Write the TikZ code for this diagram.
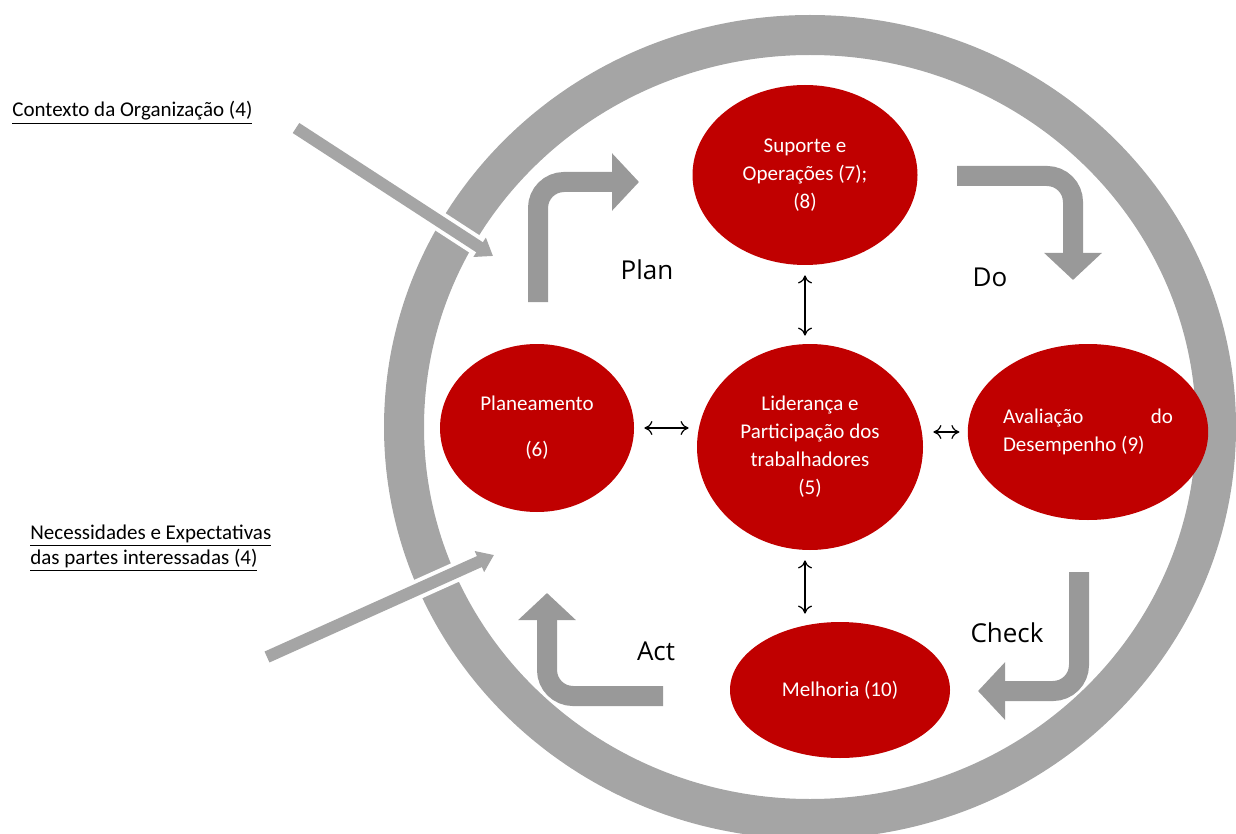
\documentclass[tikz,border=0pt]{standalone}
\usepackage{fontspec}
\setmainfont{Carlito}
\newfontfamily\pdcafont{Open Sans}
\usetikzlibrary{shapes.geometric, arrows.meta, positioning, calc}
\definecolor{ringgray}{RGB}{165,165,165}
\definecolor{flowgray}{RGB}{153,153,153}
\definecolor{isored}{RGB}{192,0,0}

\begin{document}
\begin{tikzpicture}[x=0.5pt, y=-0.5pt,
    redcirc/.style={ellipse, fill=isored, text=white, inner sep=0pt, align=center, font=\fontsize{10.5}{14}\selectfont},
    dblarrow/.style={{To[length=4pt,width=7pt]}-{To[length=4pt,width=7pt]}, line width=0.6pt, shorten <=5pt, shorten >=4pt},
    flowarrow/.style={flowgray, line width=10pt, rounded corners=13pt, -{Triangle[width=28pt,length=13.5pt]}},
    inarrow/.style={ringgray, line width=6pt, -{Triangle[width=11pt,length=8pt]}},
    pdcalabel/.style={font=\pdcafont\fontsize{13}{15}\selectfont},
    undertext/.style={align=left, inner sep=0pt, font=\fontsize{10.5}{12.5}\selectfont}]
    \useasboundingbox (0,0) rectangle (1236,834);

    % Outer ring
    \draw[ringgray, line width=20pt] (810,427) ellipse [x radius=406, y radius=392];

    % PDCA elements
    \node[redcirc, minimum width=112.5pt, minimum height=90pt] (suporte) at (805,175) {Suporte e\\Operações (7);\\(8)};
    \node[redcirc, minimum width=113pt, minimum height=103pt] (lider) at (810,447) {Liderança e\\Participação dos\\trabalhadores\\(5)};
    \node[redcirc, minimum width=97pt, minimum height=84pt] (planea) at (537,428) {Planeamento\\[9pt](6)};
    \node[redcirc, minimum width=95pt, minimum height=88pt] (avalia) at (1088,432) {\makebox[85pt][s]{Avaliação\hfill do}\\\makebox[85pt][l]{Desempenho (9)}};
    \node[redcirc, minimum width=110pt, minimum height=68pt] (melhoria) at (840,690) {Melhoria (10)};

    % Links to leadership
    \draw[dblarrow] (suporte.south) -- (suporte.south |- lider.north);
    \draw[dblarrow] (lider.south -| suporte.south) -- (melhoria.north -| suporte.south);
    \draw[dblarrow] (planea.east) -- (planea.east -| lider.west);
    \draw[dblarrow] (lider.east |- avalia.west) -- (avalia.west);

    % Cycle arrows
    \draw[flowarrow] (538,302) -- (538,182) -- (639,182);
    \draw[flowarrow] (957,176) -- (1073,176) -- (1073,280);
    \draw[flowarrow] (1079,572) -- (1079,691) -- (978,691);
    \draw[flowarrow] (663,696) -- (547,696) -- (547,593);

    \node[pdcalabel] (plan) at (647,270) {Plan};
    \node[pdcalabel] (do) at (990,277) {Do};
    \node[pdcalabel] (check) at (1007,633) {Check};
    \node[pdcalabel] (act) at (656,651) {Act};

    % Inputs
    \node[undertext, anchor=base west] (contexto) at (12,117) {\underline{Contexto da Organização (4)}};
    \node[undertext, anchor=base west] (partes) at (30,564) {\underline{Necessidades e Expectativas}\\\underline{das partes interessadas (4)}};
    \coordinate (ctxfrom) at (296,128);
    \coordinate (ctxto) at (493,256);
    \coordinate (ptsfrom) at (267,657);
    \coordinate (ptsto) at (494,555);
    \draw[white, line width=10pt] (ctxfrom) -- ($(ctxfrom)!0.93!(ctxto)$);
    \draw[inarrow] (ctxfrom) -- (ctxto);
    \draw[white, line width=10pt] (ptsfrom) -- ($(ptsfrom)!0.93!(ptsto)$);
    \draw[inarrow] (ptsfrom) -- (ptsto);
\end{tikzpicture}
\end{document}
